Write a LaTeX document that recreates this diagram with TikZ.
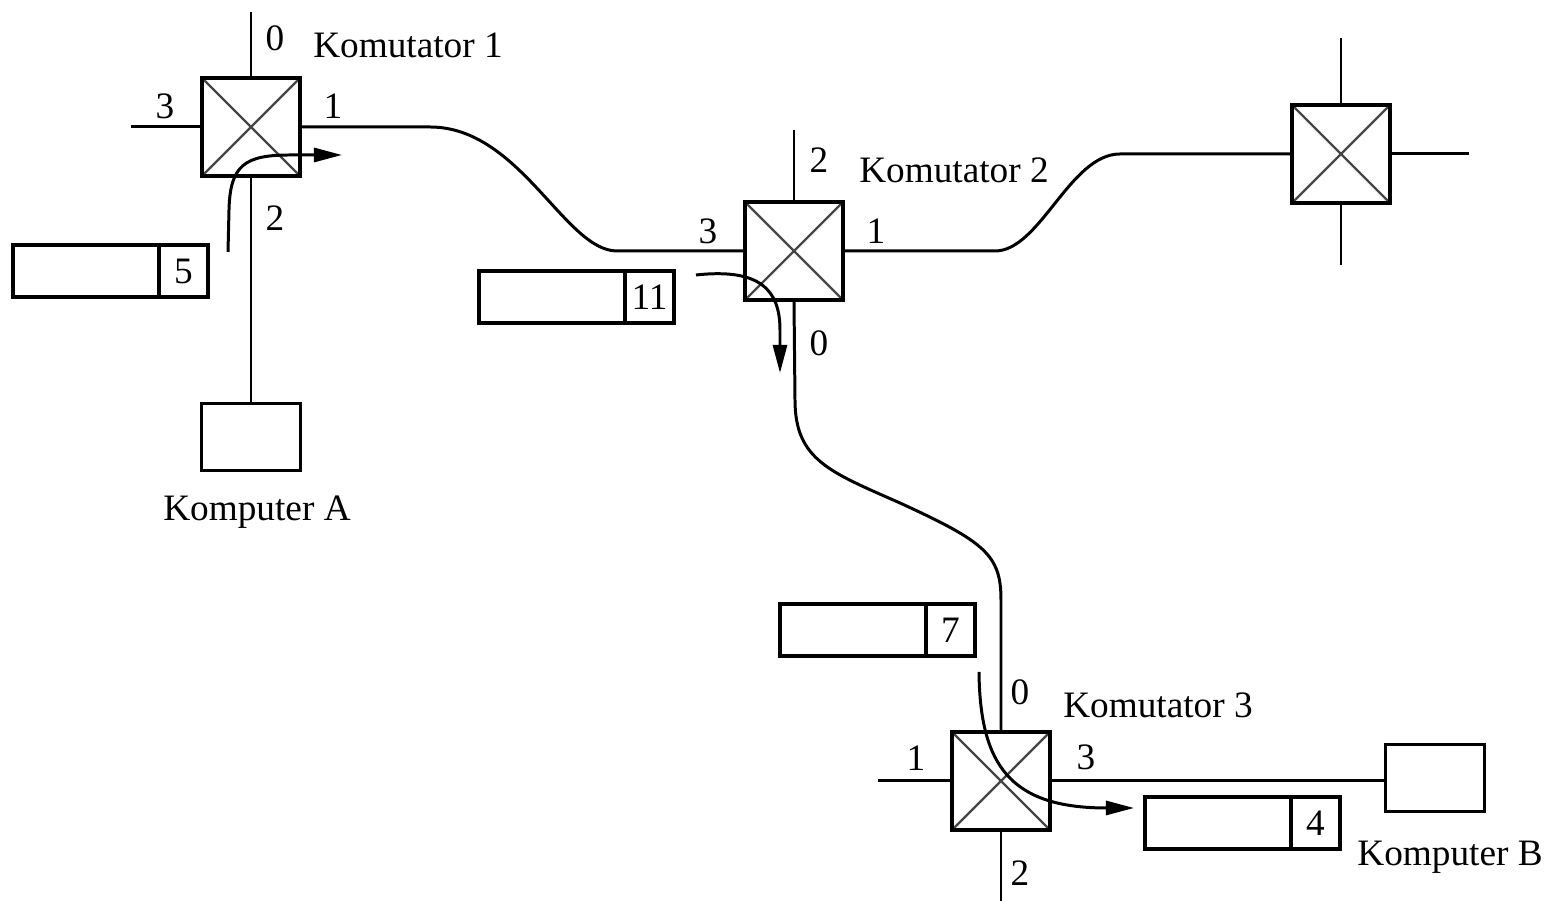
\documentclass[tikz,border=0pt]{standalone}
\usepackage{fontspec}
\setmainfont{Liberation Serif}
\usetikzlibrary{arrows.meta}
\begin{document}
\begin{tikzpicture}[x=0.01cm,y=-0.01cm,
  every node/.style={font=\fontsize{10.6}{12}\selectfont},
  wire/.style={line width=0.85pt},
  flow/.style={line width=0.85pt,-{Triangle[length=8pt,width=4pt]}},
  switchbox/.style={draw,line width=0.95pt,minimum size=0.98cm,inner sep=0pt,fill=white,
    path picture={\draw[gray!55!black,line width=0.65pt]
      (path picture bounding box.north west) -- (path picture bounding box.south east)
      (path picture bounding box.north east) -- (path picture bounding box.south west);}},
  pcbox/.style={draw,line width=0.95pt,minimum width=0.99cm,minimum height=0.67cm,inner sep=0pt},
  packet/.style={draw,line width=0.95pt,minimum width=1.95cm,minimum height=0.52cm,inner sep=0pt},
  numcell/.style={draw,line width=0.95pt,minimum width=0.49cm,minimum height=0.52cm,inner sep=0pt,anchor=east},
  lbl/.style={inner sep=0pt}
]
\useasboundingbox (0,0) rectangle (1550,901);

% switches
\node[switchbox] (s1) at (251,127) {};
\node[switchbox] (s2) at (794,251) {};
\node[switchbox] (s3) at (1001,781) {};
\node[switchbox] (s4) at (1341,154) {};

% computers
\node[pcbox] (pa) at (251,437) {};
\node[pcbox] (pb) at (1435,778) {};

% stub end points
\coordinate (s1n) at (251,12);
\coordinate (s1w) at (131,127);
\coordinate (s2n) at (794,130);
\coordinate (s3w) at (878,781);
\coordinate (s3s) at (1001,901);
\coordinate (s4n) at (1341,38);
\coordinate (s4s) at (1341,265);
\coordinate (s4e) at (1469,154);

% stubs and links
\draw[wire] (s1.north) -- (s1n);
\draw[wire] (s1.west) -- (s1w);
\draw[wire] (s1.south) -- (pa.north);
\draw[wire] (s2.north) -- (s2n);
\draw[wire] (s3.west) -- (s3w);
\draw[wire] (s3.south) -- (s3s);
\draw[wire] (s3.east) -- (s3.east -| pb.west);
\draw[wire] (s4.north) -- (s4n);
\draw[wire] (s4.south) -- (s4s);
\draw[wire] (s4.east) -- (s4e);

\draw[wire] (s1.east) -- (430,127) .. controls (520,127) and (565,251) .. (617,251) -- (s2.west);
\draw[wire] (s2.east) -- (995,251) .. controls (1040,251) and (1070,154) .. (1120,154) -- (s4.west);
\draw[wire] (s2.south) -- (795,400) .. controls (795,460) and (830,472) .. (900,503)
   .. controls (985,542) and (1001,555) .. (1001,600) -- (s3.north);

% packets
\node[packet] (p5) at (110.5,271) {};
\node[numcell] (n5) at (p5.east) {5};
\node[packet] (p11) at (576.5,297) {};
\node[numcell] (n11) at (p11.east) {11};
\node[packet] (p7) at (877.5,630) {};
\node[numcell] (n7) at (p7.east) {7};
\node[packet] (p4) at (1242.5,823) {};
\node[numcell] (n4) at (p4.east) {4};

% flow arrows
\coordinate (a1s) at (228,252);
\coordinate (a1e) at (342,155);
\draw[flow] (a1s) -- (229,210) .. controls (230,165) and (245,155) .. (290,155) -- (a1e);
\coordinate (a2s) at (696,275);
\coordinate (a2e) at (780,373);
\draw[flow] (a2s) .. controls (760,268) and (780,290) .. (780,330) -- (a2e);
\coordinate (a3s) at (979,672);
\coordinate (a3e) at (1134,808);
\draw[flow] (a3s) .. controls (980,765) and (1010,808) .. (a3e);

% labels
\node[lbl] (l10) at (275,38) {0};
\node[lbl] (k1) at (408,45) {Komutator 1};
\node[lbl] (l13) at (165,106) {3};
\node[lbl] (l11) at (333,106) {1};
\node[lbl] (l12) at (275,218) {2};
\node[lbl] (ka) at (257,512) {Komputer A};

\node[lbl] (l22) at (819,160) {2};
\node[lbl] (k2) at (954,170) {Komutator 2};
\node[lbl] (l23) at (708,231) {3};
\node[lbl] (l21) at (876,231) {1};
\node[lbl] (l20) at (819,343) {0};

\node[lbl] (l30) at (1020,692) {0};
\node[lbl] (k3) at (1158,705) {Komutator 3};
\node[lbl] (l31) at (916,758) {1};
\node[lbl] (l33) at (1086,757) {3};
\node[lbl] (l32) at (1020,873) {2};
\node[lbl] (kb) at (1450,857) {Komputer B};
\end{tikzpicture}
\end{document}
